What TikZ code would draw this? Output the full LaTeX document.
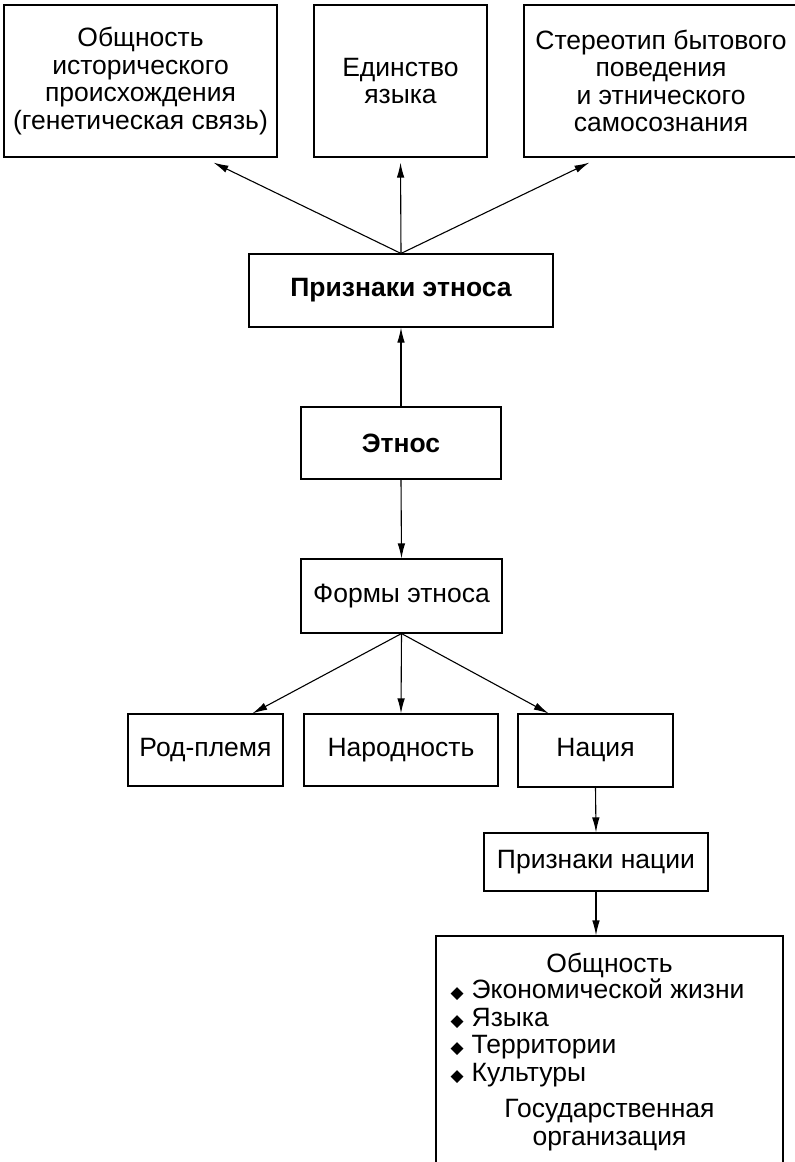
\documentclass[tikz,border=0pt]{standalone}
\usepackage{fontspec}
\setmainfont{Liberation Sans}
\newfontfamily\dejavu{DejaVu Sans}
\usepackage{tikz}
\usetikzlibrary{arrows.meta,calc}

\newcommand{\romb}{{\dejavu\fontsize{17}{17}\selectfont ◆}\hspace{8pt}}

\begin{document}
\begin{tikzpicture}[x=1pt,y=-1pt,
    box/.style={draw, line width=1.1pt, inner sep=0pt, align=center,
        font=\fontsize{26.5}{27.5}\selectfont},
    arr/.style={line width=1.1pt, -{Latex[length=15pt,width=7.5pt]}}]
        \useasboundingbox (0,0) rectangle (795,1162);
        % top row
        \node[box, minimum width=273, minimum height=152] (ist) at (140.5,81) {Общность\\исторического\\происхождения\\(генетическая связь)};
        \node[box, minimum width=173, minimum height=152] (edin) at (400.5,81) {Единство\\языка};
        \node[box, minimum width=274, minimum height=152] (ster) at (661,81) {Стереотип бытового\\поведения\\и этнического\\самосознания};
        % middle column
        \node[box, minimum width=304, minimum height=73, font=\fontsize{26.5}{27.5}\selectfont\bfseries] (prizn) at (401,290.5) {Признаки этноса};
        \node[box, minimum width=200, minimum height=72, font=\fontsize{26.5}{27.5}\selectfont\bfseries] (etnos) at (401,443) {Этнос};
        \node[box, minimum width=201, minimum height=74] (formy) at (401.5,596) {Формы этноса};
        % forms
        \node[box, minimum width=155, minimum height=72] (rod) at (205.5,750) {Род-племя};
        \node[box, minimum width=194, minimum height=72] (narod) at (401,750) {Народность};
        \node[box, minimum width=155, minimum height=73] (naciya) at (595.5,750.5) {Нация};
        \node[box, minimum width=224, minimum height=58] (priznn) at (596,862) {Признаки нации};
        \node[box, minimum width=347, minimum height=232] (obsh) at (609.5,1052) {Общность\\
            \begin{tabular}{@{}l@{}}
            \romb Экономической жизни\\
            \romb Языка\\
            \romb Территории\\
            \romb Культуры
            \end{tabular}\kern24pt\mbox{}\\[9pt]
            Государственная\\организация};
        % arrows
        \draw[arr] (prizn.north) -- ([yshift=-5pt]$(ist.south west)!0.766!(ist.south east)$);
        \draw[arr, shorten >=5pt] (prizn.north) -- (edin.south);
        \draw[arr] (prizn.north) -- ([yshift=-5pt]$(ster.south west)!0.24!(ster.south east)$);
        \draw[arr] (etnos.north) -- (prizn.south);
        \draw[arr] (etnos.south) -- (formy.north);
        \draw[arr] (formy.south) -- ($(rod.north west)!0.8!(rod.north east)$);
        \draw[arr] (formy.south) -- (narod.north);
        \draw[arr] (formy.south) -- ($(naciya.north west)!0.2!(naciya.north east)$);
        \draw[arr] (naciya.south) -- (priznn.north);
        \draw[arr] (priznn.south) -- (priznn.south |- obsh.north);
\end{tikzpicture}
\end{document}
